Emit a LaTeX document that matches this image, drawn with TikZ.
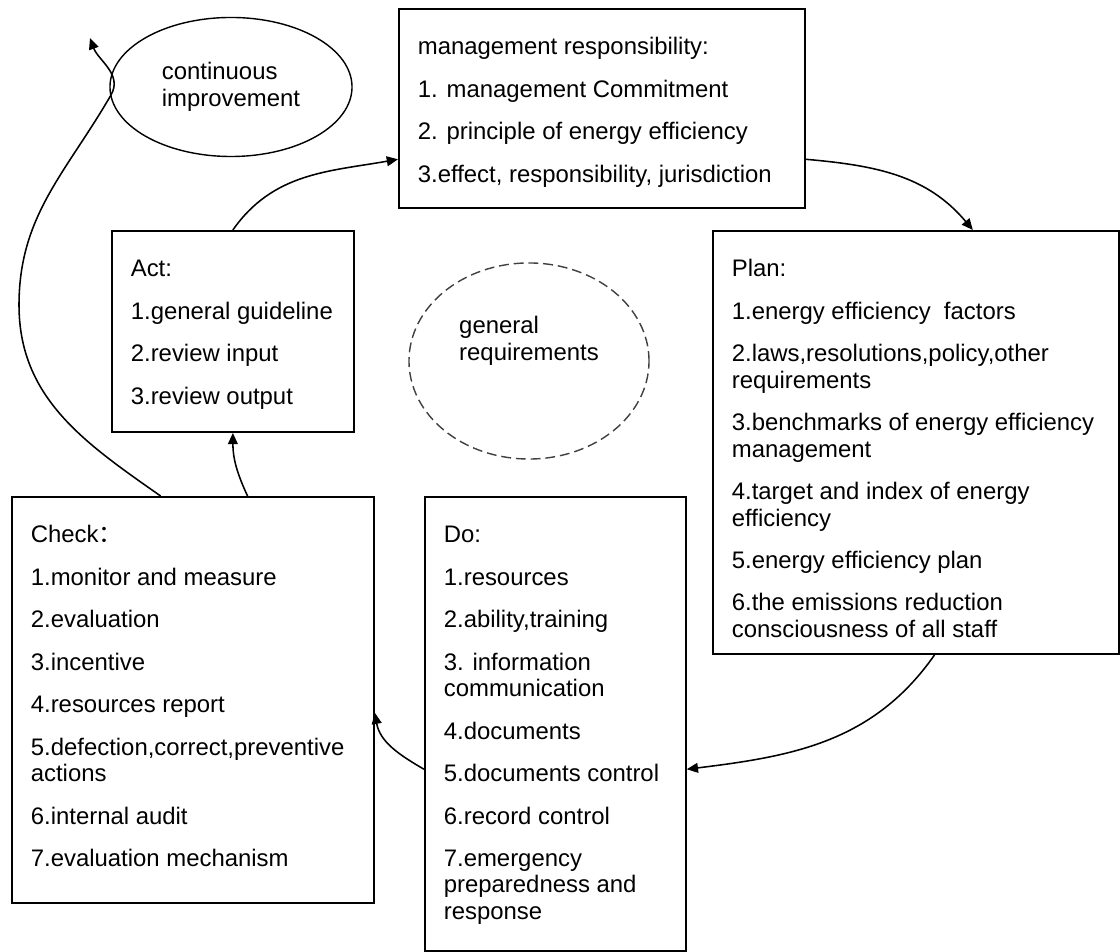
\documentclass[tikz,border=0pt]{standalone}
\usepackage{fontspec}
\setmainfont{Liberation Sans}
\newfontfamily\cjkfont{Noto Sans CJK SC}
\usetikzlibrary{arrows.meta,shapes.geometric}
\newcommand{\boxlines}[3]{\parbox[c][#2][t]{#1}{\begin{tabular}[t]{@{}l@{}}#3\end{tabular}}}
\newcommand{\gap}{\\[0.4cm]}
\tikzset{
	stepbox/.style={draw, line width=1.2pt, anchor=north west, inner xsep=0.475cm, inner ysep=0.69cm},
	loopnote/.style={draw, ellipse, line width=1pt, inner sep=0pt, align=left},
	flow/.style={line width=1.1pt, -{Triangle[length=8pt,width=7pt]}}
}

\begin{document}
\begin{tikzpicture}[x=0.025cm, y=0.025cm, font=\fontsize{17pt}{18.8pt}\selectfont]
			%%%%% START %%%%%
			\useasboundingbox (0, 0) rectangle (1120, 952);
			
			\node[stepbox] (mgmt) at (398, 944) {\boxlines{9.2cm}{3.6cm}{management responsibility:\gap
				1. management Commitment\gap
				2. principle of energy efficiency\gap
				3.effect, responsibility, jurisdiction}};
			
			\node[stepbox] (act) at (111, 722) {\boxlines{5.1cm}{3.65cm}{Act:\gap
				1.general guideline\gap
				2.review input\gap
				3.review output}};
			
			\node[stepbox] (plan) at (712, 722) {\boxlines{9.2cm}{9.2cm}{Plan:\gap
				1.energy efficiency~ factors\gap
				2.laws,resolutions,policy,other\\ requirements\gap
				3.benchmarks of energy efficiency\\ management\gap
				4.target and index of energy\\ efficiency\gap
				5.energy efficiency plan\gap
				6.the emissions reduction\\ consciousness of all staff}};
			
			\node[stepbox] (check) at (11, 456) {\boxlines{8.1cm}{8.775cm}{Check{\cjkfont ：}\gap
				1.monitor and measure\gap
				2.evaluation\gap
				3.incentive\gap
				4.resources report\gap
				5.defection,correct,preventive\\ actions\gap
				6.internal audit\gap
				7.evaluation mechanism}};
			
			\node[stepbox] (do) at (424, 456) {\boxlines{5.575cm}{9.975cm}{Do:\gap
				1.resources\gap
				2.ability,training\gap
				3. information\\ communication\gap
				4.documents\gap
				5.documents control\gap
				6.record control\gap
				7.emergency\\ preparedness and\\ response}};
			
			\node[loopnote, minimum width=6.05cm, minimum height=3.475cm] (impr) at (231, 865) {continuous\\improvement};
			
			\node[loopnote, dashed, dash pattern=on 7pt off 3.5pt, draw=black!75, minimum width=6cm, minimum height=4.9cm] (genreq) at (529, 591) {};
			\node[align=left] (genreqlabel) at (529, 611) {general\\requirements};
			
			\coordinate (bendl) at (19, 647);
			\coordinate (bendr) at (111, 857);
			\coordinate (imprtip) at (90, 914);
			
			\draw[flow] (act.north) to[out=55, in=190] (mgmt.194);
			\draw[flow] (mgmt.-14) to[out=-5, in=130] (plan.75);
			\draw[flow] (plan.-85) to[out=-125, in=7] (do.-19);
			\draw[flow] (do.199) to[out=150, in=-80] (check.-4);
			\draw[flow] (check.75) to[out=115, in=-90] (act.south);
			\draw[flow] (check.99) to[out=145, in=-90] (bendl) to[out=90, in=-120] (bendr) to[out=60, in=-70] (imprtip);
			
			%%%%% END %%%%%
\end{tikzpicture}
\end{document}
